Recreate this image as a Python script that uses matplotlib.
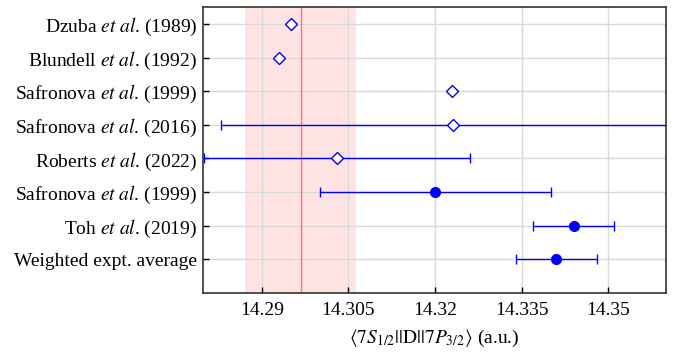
import matplotlib
matplotlib.use("Agg")
import matplotlib.pyplot as plt

plt.rcParams.update({
    'font.family': ['Liberation Serif', 'DejaVu Serif'],
    'mathtext.fontset': 'stix',
    'font.size': 14,
})

# data
labels = [
    r'Dzuba $et\ al$. (1989)',
    r'Blundell $et\ al$. (1992)',
    r'Safronova $et\ al$. (1999)',
    r'Safronova $et\ al$. (2016)',
    r'Roberts $et\ al$. (2022)',
    r'Safronova $et\ al$. (1999)',
    r'Toh $et\ al$. (2019)',
    'Weighted expt. average',
]
values = [14.2950, 14.2930, 14.3229, 14.3231, 14.3030, 14.3200, 14.3440, 14.3410]
errors = [None, None, None, 0.0401, 0.0230, 0.0200, 0.0070, 0.0070]
is_theory = [True, True, True, True, True, False, False, False]

band_center = 14.2967
band_halfwidth = 0.0096

xticks = [14.29, 14.305, 14.32, 14.335, 14.35]
xtick_labels = ['14.29', '14.305', '14.32', '14.335', '14.35']

blue = '#0000ff'

fig = plt.figure(figsize=(6.89, 3.56), dpi=100)
ax = fig.add_axes([0.2946, 0.178, 0.672, 0.803])

ax.axvspan(band_center - band_halfwidth, band_center + band_halfwidth,
           color='#ffe3e3', zorder=0, lw=0)
ax.axvline(band_center, color='#ff7070', lw=1, zorder=1)

for i, (v, e, th) in enumerate(zip(values, errors, is_theory)):
    if e is not None:
        ax.errorbar(v, i, xerr=e, fmt='none', ecolor=blue, elinewidth=1,
                    capsize=3.6, capthick=1, zorder=3, clip_on=True)
    if th:
        ax.plot(v, i, 'D', ms=6, mfc='white', mec=blue, mew=1, zorder=4)
    else:
        ax.plot(v, i, 'o', ms=7, color=blue, zorder=4)

ax.set_yticks(range(len(labels)))
ax.set_yticklabels(labels)
ax.set_ylim(8.0, -0.52)
ax.set_xlim(14.2798, 14.36)
ax.set_xticks(xticks)
ax.set_xticklabels(xtick_labels)

ax.grid(True, color='#d9d9d9', lw=1)
ax.set_axisbelow(True)
ax.tick_params(direction='in', length=4, width=1, top=False, right=False)
ax.tick_params(axis='x', pad=7)
ax.tick_params(axis='y', pad=4)
for s in ax.spines.values():
    s.set_linewidth(1.2)
    s.set_color('#333333')

ax.set_xlabel(r'$\langle 7S_{1/2}||\mathrm{D}||7P_{3/2}\rangle$ (a.u.)', labelpad=6)

fig.savefig('out.png', dpi=100)
